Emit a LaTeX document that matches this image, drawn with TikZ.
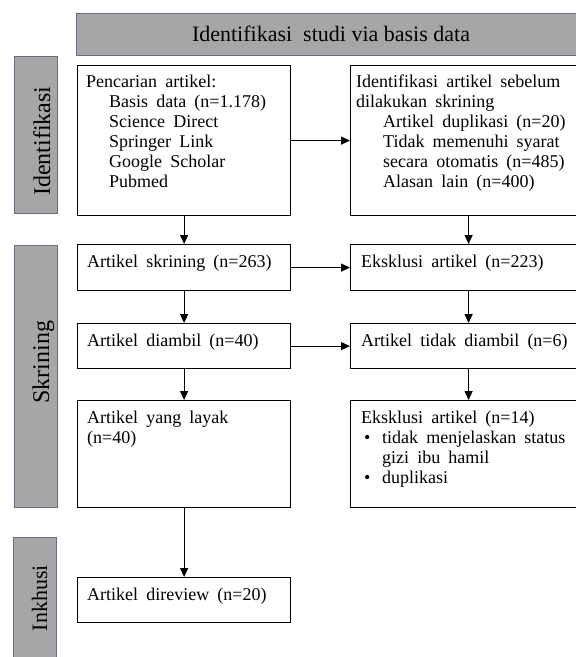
\documentclass[tikz,border=0pt]{standalone}
\usepackage{fontspec}
\setmainfont{Liberation Serif}[WordSpace={1.8,0,0}]
\newfontfamily\hdrfont{Liberation Serif}[WordSpace={1.0,0,0}]
\usetikzlibrary{arrows.meta}
\definecolor{fillgray}{RGB}{166,166,166}
\definecolor{edgegray}{RGB}{100,112,128}
\tikzset{
  box/.style={draw=black, line width=1.2pt, fill=white, inner sep=0pt, anchor=north west},
  gbox/.style={draw=edgegray, fill=fillgray, line width=1.4pt, inner sep=0pt, anchor=north west},
  txt/.style={inner sep=0pt, anchor=north west, align=left, font=\fontsize{18}{20}\selectfont},
  vlab/.style={inner sep=0pt, rotate=90, anchor=base},
  arr/.style={-{Triangle[length=9pt,width=8pt]}, line width=1.2pt}
}
\begin{document}
\begin{tikzpicture}[x=1pt,y=-1pt]
\useasboundingbox (0,0) rectangle (576,657);
\clip (0,0) rectangle (576,657);
\fill[white] (0,0) rectangle (576,657);
% header and side labels
\node[gbox, minimum width=510pt, minimum height=42pt] (hdr) at (76,13) {};
\node[inner sep=0pt, font=\hdrfont\fontsize{22}{24}\selectfont] (hdrt) at (331,34) {Identifikasi\ \ studi via basis data};
\node[gbox, minimum width=43pt, minimum height=157pt] (lid) at (14,56) {};
\node[vlab, font=\fontsize{24}{26}\selectfont] (lidt) at (50,141) {Identifikasi};
\node[gbox, minimum width=43pt, minimum height=262pt] (lsk) at (14,245) {};
\node[vlab, font=\fontsize{24}{26}\selectfont] (lskt) at (49,362) {Skrining};
\node[gbox, minimum width=43pt, minimum height=135pt] (lin) at (13,537) {};
\node[vlab, font=\fontsize{22}{24}\selectfont] (lint) at (47,598) {Inkhusi};
% boxes
\node[box, minimum width=213pt, minimum height=150pt] (b1) at (77,65) {};
\node[box, minimum width=236pt, minimum height=150pt] (b2) at (350,65) {};
\node[box, minimum width=213pt, minimum height=46pt] (r2l) at (77,244) {};
\node[box, minimum width=236pt, minimum height=46pt] (r2r) at (350,244) {};
\node[box, minimum width=213pt, minimum height=45pt] (r3l) at (77,323) {};
\node[box, minimum width=236pt, minimum height=45pt] (r3r) at (350,323) {};
\node[box, minimum width=213pt, minimum height=107pt] (r4l) at (77,400) {};
\node[box, minimum width=236pt, minimum height=107pt] (r4r) at (350,400) {};
\node[box, minimum width=213pt, minimum height=45pt] (fin) at (77,577) {};
% texts
\node[txt] (t1) at (86,75) {Pencarian artikel:\\
\hspace*{23pt}Basis data (n=1.178)\\
\hspace*{23pt}Science Direct\\
\hspace*{23pt}Springer Link\\
\hspace*{23pt}Google Scholar\\
\hspace*{23pt}Pubmed};
\node[txt] (t2) at (356,75) {Identifikasi artikel sebelum\\
dilakukan skrining\\
\hspace*{27pt}Artikel duplikasi (n=20)\\
\hspace*{27pt}Tidak memenuhi syarat\\
\hspace*{27pt}secara otomatis (n=485)\\
\hspace*{27pt}Alasan lain (n=400)};
\node[txt] (t3) at (87,255) {Artikel skrining (n=263)};
\node[txt] (t4) at (361,255) {Eksklusi artikel (n=223)};
\node[txt] (t5) at (87,334) {Artikel diambil (n=40)};
\node[txt] (t6) at (361,334) {Artikel tidak diambil (n=6)};
\node[txt] (t7) at (87,411) {Artikel yang layak\\(n=40)};
\node[txt] (t8) at (361,411) {Eksklusi artikel (n=14)\\
\makebox[21pt][l]{\hspace*{3pt}\textbullet}tidak menjelaskan status\\
\hspace*{21pt}gizi ibu hamil\\
\makebox[21pt][l]{\hspace*{3pt}\textbullet}duplikasi};
\node[txt] (t9) at (87,588) {Artikel direview (n=20)};
% connectors
\draw[arr] (b1.east) -- (b2.west);
\draw[arr] (b1.south) -- (r2l.north);
\draw[arr] (b2.south) -- (r2r.north);
\draw[arr] (r2l.east) -- (r2r.west);
\draw[arr] (r2l.south) -- (r3l.north);
\draw[arr] (r2r.south) -- (r3r.north);
\draw[arr] (r3l.east) -- (r3r.west);
\draw[arr] (r3l.south) -- (r4l.north);
\draw[arr] (r3r.south) -- (r4r.north);
\draw[arr] (r4l.south) -- (fin.north);
\end{tikzpicture}
\end{document}
